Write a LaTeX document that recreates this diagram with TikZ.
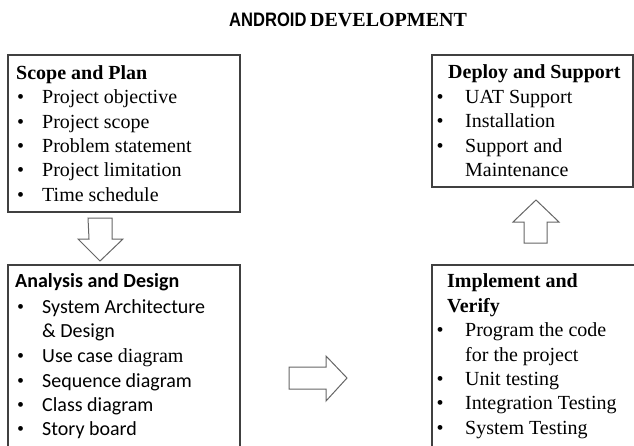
\documentclass[tikz,border=0pt]{standalone}
\usepackage{fontspec}
\setmainfont{Liberation Serif}
\newfontfamily\calib{Carlito}
\newfontfamily\arialf{Liberation Sans}
\begin{document}
\begin{tikzpicture}[x=1pt,y=-1pt,
  frame/.style={draw=black!75,line width=1.2pt},
  blockarrow/.style={draw=black!60,line width=1pt,fill=white,line join=miter},
  txt/.style={anchor=base west,inner sep=0pt,font=\fontsize{20}{24}\selectfont},
  blt/.style={txt},
]
\useasboundingbox (0,0) rectangle (634,445);

% heading
\node[txt,font=\fontsize{19.5}{22}\selectfont\bfseries\arialf] (head1) at (229,26.5)
  {\scalebox{0.85}[1]{ANDROID}};
\node[txt,font=\fontsize{20}{24}\selectfont\bfseries] (head2) at (310,26.5) {DEVELOPMENT};

% box outlines
\draw[frame] (8,55) rectangle (240,212);
\coordinate (scopeS) at (100,212);
\draw[frame] (432,55) rectangle (633,187);
\coordinate (deployS) at (536,187);
\draw[frame] (8,450) -- (8,265) -- (240,265) -- (240,450);
\coordinate (analysisN) at (100,265);
\draw[frame] (432,450) -- (432,265) -- (640,265);
\coordinate (implN) at (536,265);

% Scope and Plan
\node[txt,font=\fontsize{20}{24}\selectfont\bfseries] (sp) at (16,79) {Scope and Plan};
\foreach \y/\t [count=\i] in {103.5/Project objective,128/Project scope,152/Problem statement,176.5/Project limitation,201/Time schedule}{
  \node[blt] (spb\i) at (17,\y) {•};
  \node[txt] (spt\i) at (42,\y) {\t};
}

% Deploy and Support
\node[txt,font=\fontsize{20}{24}\selectfont\bfseries] (ds) at (448,78) {Deploy and Support};
\foreach \y/\t [count=\i] in {103/UAT Support,127/Installation,152/Support and}{
  \node[blt] (dsb\i) at (436.5,\y) {•};
  \node[txt] (dst\i) at (465,\y) {\t};
}
\node[txt] (dst4) at (465,176) {Maintenance};

% Analysis and Design
\node[txt,font=\fontsize{20}{24}\selectfont\calib\bfseries] (ad) at (15,287) {Analysis and Design};
\foreach \y/\t [count=\i] in {313/{\calib System Architecture},362/{\calib Use case} diagram,387/{\calib Sequence diagram},411/{\calib Class diagram},435/{\calib Story board}}{
  \node[blt] (adb\i) at (17,\y) {•};
  \node[txt] (adt\i) at (42,\y) {\t};
}
\node[txt] (adx) at (42,337) {\calib \& Design};

% Implement and Verify
\node[txt,font=\fontsize{20}{24}\selectfont\bfseries] (iv1) at (447,287) {Implement and};
\node[txt,font=\fontsize{20}{24}\selectfont\bfseries] (iv2) at (447,312) {Verify};
\foreach \y/\t [count=\i] in {336/Program the code,385/Unit testing,409/Integration Testing,434/System Testing}{
  \node[blt] (ivb\i) at (436.5,\y) {•};
  \node[txt] (ivt\i) at (465,\y) {\t};
}
\node[txt] (ivx) at (465,361) {for the project};

% block arrows between the phases
\draw[blockarrow] ([shift={(-12,6)}]scopeS) -- ++(24,0) -- ++(0,21) -- ++(11,0)
  -- ([shift={(0,-4)}]analysisN) -- ++(-22,-22) -- ++(11,0) -- cycle;
\draw[blockarrow] (289,367) -- (326,367) -- (326,356) -- (347,378) -- (326,401)
  -- (326,389) -- (289,389) -- cycle;
\draw[blockarrow] ([shift={(-12,-22)}]implN) -- ++(23,0) -- ++(0,-21) -- ++(12,0)
  -- ([shift={(0,13)}]deployS) -- ++(-23,22) -- ++(11,0) -- cycle;
\end{tikzpicture}
\end{document}
